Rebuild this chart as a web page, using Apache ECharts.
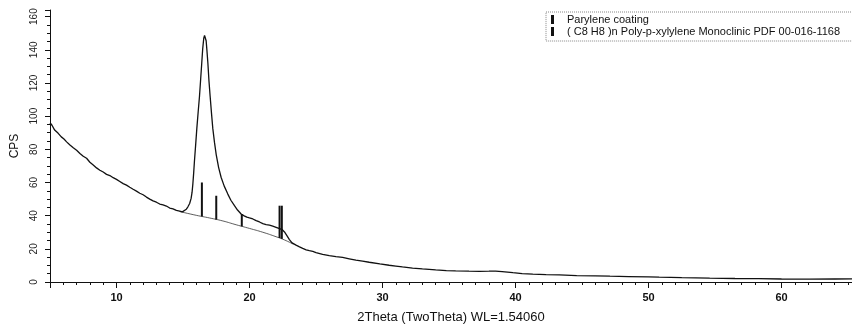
<!DOCTYPE html>
<html>
<head>
<meta charset="utf-8">
<script src="https://cdn.jsdelivr.net/npm/echarts@6/dist/echarts.min.js"></script>
<style>
  html, body { margin: 0; padding: 0; background: #fff; }
  #main { width: 852px; height: 329px; }
</style>
</head>
<body>
<div id="main"></div>
<script>
// 测量曲线 2θ / CPS
var scanX = [5.0, 5.15, 5.35, 5.6, 5.85, 6.05, 6.25, 6.5, 6.75, 7.0, 7.25, 7.5, 7.75, 8.0, 8.25, 8.5, 8.75, 9.0, 9.25, 9.5, 9.75,
    10.0, 10.25, 10.5, 10.75, 11.0, 11.25, 11.5, 11.75, 12.0, 12.25, 12.5, 12.75, 13.0, 13.25, 13.5, 13.75, 14.0, 14.25, 14.5, 14.75, 14.95,
    15.1, 15.25, 15.36, 15.5, 15.61, 15.68, 15.74, 15.8, 15.86, 15.95, 16.04, 16.14, 16.24, 16.33, 16.41, 16.48, 16.56, 16.62, 16.68, 16.74,
    16.8, 16.87, 16.95, 17.04, 17.14, 17.24, 17.37, 17.5, 17.68, 17.87, 18.1, 18.37, 18.6, 18.87, 19.1, 19.37, 19.6, 19.8, 20.0, 20.25,
    20.5, 20.75, 21.0, 21.25, 21.5, 21.75, 22.0, 22.26, 22.45, 22.63, 22.8, 23.0, 23.2, 23.5, 23.76, 24.0, 24.26, 24.5, 24.76, 25.0,
    25.5, 26.0, 26.5, 27.0, 27.5, 28.0, 28.5, 29.0, 29.8, 30.5, 31.0, 31.5, 32.26, 33.0, 34.0, 34.8, 35.5, 36.5, 37.3, 38.0, 38.5,
    39.0, 39.8, 40.5, 41.3, 42.3, 43.3, 44.6, 46.0, 47.1, 48.5, 50.0, 50.8, 52.5, 54.6, 56.5, 58.3, 60.0, 62.1, 64.0, 65.3];
var scanY = [96, 94.5, 91.6, 89.8, 87.5, 86.2, 84.5, 82.6, 80.9, 79.4, 77.5, 75.8, 74.6, 72.2, 70.6, 68.8, 67.4, 66.3, 64.9, 64.2, 62.9,
    61.9, 60.6, 59.3, 58.4, 57.1, 55.9, 54.8, 53.5, 52.6, 51.2, 50.0, 48.9, 48.1, 47.0, 46.5, 45.8, 44.6, 44.1, 43.2, 42.8, 42.3,
    43.0, 43.9, 45.2, 47.3, 50.4, 54.0, 59.0, 65.5, 72.8, 82.5, 92.6, 102.5, 112.0, 122.5, 132.0, 140.5, 147.0, 148.6, 148.0, 145.5,
    139.5, 132.0, 121.5, 112.0, 102.0, 92.6, 84.0, 76.7, 69.0, 63.0, 57.8, 53.0, 49.3, 46.0, 43.4, 41.0, 39.9, 39.1, 38.6, 38.0,
    37.0, 36.2, 35.2, 34.6, 34.3, 33.7, 33.0, 32.2, 31.6, 30.2, 28.1, 25.6, 23.6, 22.2, 21.2, 20.3, 19.4, 18.9, 18.4, 17.7,
    16.7, 15.9, 15.3, 14.8, 14.0, 13.2, 12.6, 11.9, 10.9, 10.1, 9.6, 9.1, 8.4, 7.9, 7.3, 6.9, 6.7, 6.5, 6.4, 6.5, 6.6,
    6.3, 5.6, 5.1, 4.8, 4.5, 4.3, 3.9, 3.7, 3.5, 3.3, 3.1, 2.9, 2.6, 2.3, 2.1, 2.0, 1.8, 1.7, 1.8, 1.9];

// 背景线
var baseX = [14.74, 16.0, 17.0, 18.0, 19.0, 20.0, 21.0, 22.0, 22.5, 23.0, 23.3];
var baseY = [42.5, 40.2, 38.6, 36.8, 34.5, 32.3, 30.0, 27.3, 25.8, 24.0, 22.8];

// 标准卡片竖线
var stickX = [16.42, 17.5, 19.42, 22.26, 22.43];
var stickLow = [39.5, 37.6, 33.5, 26.5, 26.0];
var stickHigh = [60, 52, 41, 46, 46];

var scanName = 'Parylene coating';
var refName = '( C8 H8 )n Poly-p-xylylene Monoclinic PDF 00-016-1168';

var myChart = echarts.init(document.getElementById('main'));

var scanData = scanX.map(function (x, i) { return [x, scanY[i]]; });
var baseData = baseX.map(function (x, i) { return [x, baseY[i]]; });
var stickData = stickX.map(function (x, i) { return [x, stickLow[i], stickHigh[i]]; });

var option = {
    animation: false,
    textStyle: { fontFamily: 'Liberation Sans, Arial, sans-serif' },
    grid: { left: 50, right: 0, top: 10, bottom: 43 },
    legend: {
        orient: 'vertical',
        left: 546,
        top: 12,
        padding: [2, 30, 4, 5],
        itemGap: 1,
        itemWidth: 3,
        itemHeight: 9,
        borderColor: '#888',
        borderWidth: 1,
        borderType: 'dotted',
        textStyle: { fontSize: 11, color: '#111', padding: [0, 0, 0, 8] },
        data: [
            { name: scanName, icon: 'rect', itemStyle: { color: '#111' } },
            { name: refName, icon: 'rect', itemStyle: { color: '#111' } }
        ]
    },
    xAxis: {
        type: 'value',
        min: 5,
        max: 65.3,
        splitNumber: 6,
        name: '2Theta (TwoTheta) WL=1.54060',
        nameLocation: 'middle',
        nameGap: 29,
        nameTextStyle: { fontSize: 13, color: '#111' },
        splitLine: { show: false },
        axisLine: { lineStyle: { color: '#111', width: 1 } },
        axisTick: { length: 6, lineStyle: { color: '#111' } },
        minorTick: { show: true, splitNumber: 10, length: 3, lineStyle: { color: '#111' } },
        axisLabel: {
            showMinLabel: false,
            showMaxLabel: false,
            margin: 10,
            fontSize: 11,
            fontWeight: 'bold',
            fontFamily: 'Liberation Sans Narrow, Liberation Sans, sans-serif',
            color: '#111'
        }
    },
    yAxis: {
        type: 'value',
        min: 0,
        max: 164,
        interval: 20,
        name: 'CPS',
        nameLocation: 'middle',
        nameRotate: 90,
        nameGap: 24,
        nameTextStyle: { fontSize: 12, color: '#111' },
        splitLine: { show: false },
        axisLine: { show: true, lineStyle: { color: '#111', width: 1 } },
        axisTick: { show: true, length: 5, lineStyle: { color: '#111' } },
        minorTick: { show: true, splitNumber: 4, length: 3, lineStyle: { color: '#111' } },
        axisLabel: {
            rotate: 90,
            showMaxLabel: false,
            margin: 11,
            fontSize: 10,
            color: '#222'
        }
    },
    series: [
        {
            name: scanName,
            type: 'line',
            symbol: 'none',
            data: scanData,
            lineStyle: { color: '#111', width: 1.3 },
            itemStyle: { color: '#111' },
            z: 3
        },
        {
            name: 'background',
            type: 'line',
            symbol: 'none',
            smooth: true,
            data: baseData,
            lineStyle: { color: '#333', width: 0.8 },
            silent: true,
            z: 2
        },
        {
            name: refName,
            type: 'custom',
            itemStyle: { color: '#111' },
            encode: { x: 0, y: [1, 2] },
            renderItem: function (params, api) {
                var p1 = api.coord([api.value(0), api.value(1)]);
                var p2 = api.coord([api.value(0), api.value(2)]);
                return {
                    type: 'line',
                    shape: { x1: p1[0], y1: p1[1], x2: p2[0], y2: p2[1] },
                    style: { stroke: '#111', lineWidth: 2 }
                };
            },
            data: stickData,
            z: 4
        }
    ]
};

myChart.setOption(option);
</script>
</body>
</html>
